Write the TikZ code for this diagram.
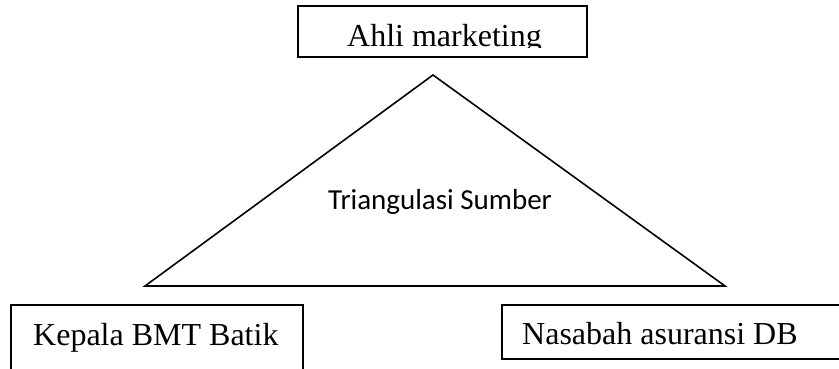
\documentclass[tikz,border=0pt]{standalone}
\usepackage{fontspec}
\setmainfont{Liberation Serif}
\newfontfamily\calibrifont{Carlito}
\begin{document}
\begin{tikzpicture}[x=1pt,y=-1pt,
  line/.style={line width=1.6pt, black},
  label/.style={inner sep=0pt, anchor=base west, font=\fontsize{32}{36}\selectfont}]
\useasboundingbox (0,0) rectangle (839,369);
% top box
\draw[line] (298,6) rectangle (587,57);
\begin{scope}
  \clip (299,7) rectangle (586,47.5);
  \node[label] (ahli) at (347,47) {Ahli marketing};
\end{scope}
% triangle
\coordinate (apex) at (433,75);
\coordinate (bl) at (145,286);
\coordinate (br) at (725,286);
\draw[line, line join=miter] (apex) -- (bl) -- (br) -- cycle;
\node[inner sep=0pt, anchor=base west, font=\calibrifont\fontsize{29}{34}\selectfont] (tri) at (328,209) {Triangulasi Sumber};
% bottom left box (open at bottom)
\draw[line] (11,372) -- (11,305) -- (303,305) -- (303,372);
\node[label] (kepala) at (33,345) {Kepala BMT Batik};
% bottom right box (runs past right edge)
\draw[line] (860,305) -- (502,305) -- (502,359) -- (860,359);
\node[label] (nasabah) at (522,344) {Nasabah asuransi DB};
\end{tikzpicture}
\end{document}
